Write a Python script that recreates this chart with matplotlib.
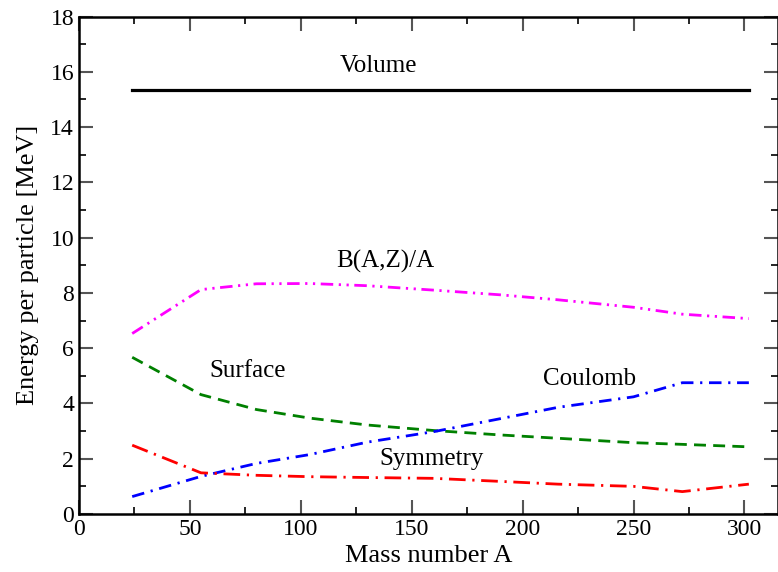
import matplotlib
matplotlib.use('Agg')
import matplotlib.pyplot as plt
from matplotlib.ticker import MultipleLocator

plt.rcParams['font.family'] = ['Liberation Serif', 'DejaVu Serif']

# mass numbers of the sample nuclei
A = [24, 55, 80, 104, 130, 160, 190, 216, 250, 272, 302]
volume = [15.35] * len(A)
binding = [6.53, 8.12, 8.33, 8.34, 8.26, 8.10, 7.93, 7.75, 7.48, 7.23, 7.07]
surface = [5.67, 4.32, 3.78, 3.47, 3.22, 3.02, 2.86, 2.74, 2.58, 2.52, 2.43]
coulomb = [0.63, 1.36, 1.83, 2.15, 2.60, 2.98, 3.45, 3.86, 4.24, 4.75, 4.75]
symmetry = [2.49, 1.49, 1.40, 1.35, 1.32, 1.29, 1.18, 1.08, 1.00, 0.81, 1.08]

fig = plt.figure(figsize=(7.78, 5.72), dpi=100)
ax = fig.add_axes([0.1015, 0.1014, 0.8981, 0.8697])

ax.plot(A, volume, color='black', lw=2.3)
ax.plot(A, binding, color='magenta', lw=2, linestyle=(0, (4.5, 2, 0.8, 2, 0.8, 2)))
ax.plot(A, surface, color='green', lw=2, linestyle=(0, (4.3, 2.6)))
ax.plot(A, coulomb, color='blue', lw=2, linestyle=(0, (4.5, 2.4, 0.8, 2.4)))
ax.plot(A, symmetry, color='red', lw=2, linestyle=(0, (6, 2.4, 0.8, 2.4)))

fs = 18
ax.text(135, 16.2, 'Volume', fontsize=fs, ha='center', va='center')
ax.text(138, 9.15, 'B(A,Z)/A', fontsize=fs, ha='center', va='center')
ax.text(76, 5.18, 'Surface', fontsize=fs, ha='center', va='center')
ax.text(230, 4.9, 'Coulomb', fontsize=fs, ha='center', va='center')
ax.text(159, 2.0, 'Symmetry', fontsize=fs, ha='center', va='center')

ax.set_xlim(0, 315)
ax.set_ylim(0, 18)
ax.xaxis.set_major_locator(MultipleLocator(50))
ax.xaxis.set_minor_locator(MultipleLocator(25))
ax.yaxis.set_major_locator(MultipleLocator(2))
ax.yaxis.set_minor_locator(MultipleLocator(1))
ax.tick_params(which='both', direction='in', top=True, right=True, labelsize=17)
ax.tick_params(which='major', length=10, width=1.5, color='#555555')
ax.tick_params(which='minor', length=5, width=1.2)
for s in ax.spines.values():
    s.set_linewidth(1.8)

ax.set_xlabel('Mass number A', fontsize=19, labelpad=4)
ax.set_ylabel('Energy per particle [MeV]', fontsize=19, labelpad=8)

plt.savefig('out.png', dpi=100)
